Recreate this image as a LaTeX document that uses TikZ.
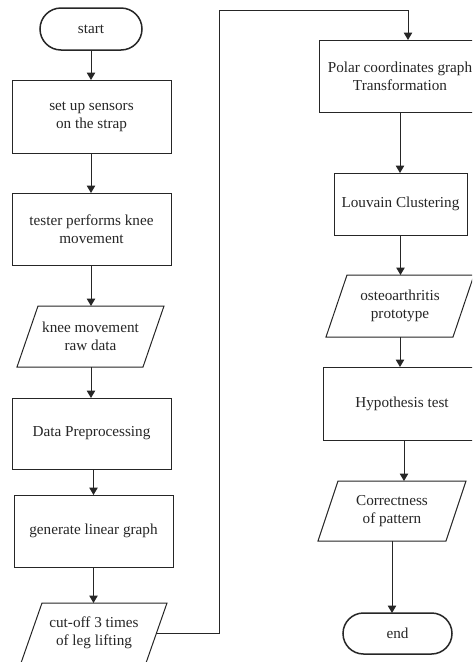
\documentclass[tikz,border=0pt]{standalone}
\usepackage{fontspec}
\setmainfont{Liberation Serif}
\usetikzlibrary{shapes.misc,arrows.meta,calc}
\tikzset{
  lin/.style={line width=1pt, draw=black!85},
  base/.style={inner sep=0pt, outer sep=0pt, align=center, text=black!85,
    font=\fontsize{15.2}{18}\selectfont},
  procbox/.style={base, lin, rectangle},
  termbox/.style={base, lin, line width=1.5pt, rounded rectangle},
  parabox/.style={base, rectangle, draw=none},
  arr/.style={lin, -{Triangle[length=7.5pt,width=8.5pt]}}
}
\newcommand\drawpara[2]{\draw[lin] ([xshift=#2pt]#1.north west) -- ([xshift=#2pt]#1.north east) -- ([xshift=-#2pt]#1.south east) -- ([xshift=-#2pt]#1.south west) -- cycle;}
\begin{document}
\begin{tikzpicture}[x=1pt,y=-1pt]
\useasboundingbox (0,0) rectangle (472,662);
\clip (0,0) rectangle (472,662);
\fill[white] (0,0) rectangle (472,662);
% left column
\node[termbox, minimum width=102pt, minimum height=42pt] (start) at (91,29) {start};
\node[procbox, minimum width=159pt, minimum height=73pt] (sensors) at (91.5,116.5) {set up sensors\\on the strap};
\node[procbox, minimum width=159pt, minimum height=72pt] (tester) at (91.5,229) {tester performs knee\\movement};
\node[parabox, minimum width=126pt, minimum height=61pt] (raw) at (90.5,336.5) {knee movement\\raw data};
\drawpara{raw}{10.5}
\node[procbox, minimum width=159pt, minimum height=71pt] (prep) at (91.5,433.5) {Data Preprocessing};
\node[procbox, minimum width=159pt, minimum height=72pt] (linear) at (93.5,531) {generate linear graph};
\node[parabox, minimum width=125pt, minimum height=60pt] (cut) at (94,633) {cut-off 3 times\\of leg lifting};
\drawpara{cut}{10.5}
% right column
\node[procbox, minimum width=162pt, minimum height=72pt] (polar) at (400,76) {Polar coordinates graph\\Transformation};
\node[procbox, minimum width=133pt, minimum height=62pt] (louvain) at (400.5,204) {Louvain Clustering};
\node[parabox, minimum width=127pt, minimum height=62pt] (osteo) at (400,306) {osteoarthritis\\prototype};
\drawpara{osteo}{10.5}
\node[procbox, minimum width=158pt, minimum height=73pt] (hyp) at (402,403.5) {Hypothesis test};
\node[parabox, minimum width=128pt, minimum height=60pt] (correct) at (392,511) {Correctness\\of pattern};
\drawpara{correct}{10}
\node[termbox, minimum width=109pt, minimum height=41pt] (end) at (397.5,633.5) {end};
% connectors
\draw[arr] (start.south) -- (start.south |- sensors.north);
\draw[arr] (sensors.south -| start.south) -- (start.south |- tester.north);
\draw[arr] (tester.south -| start.south) -- (start.south |- raw.north);
\draw[arr] (raw.south -| start.south) -- (start.south |- prep.north);
\draw[arr] (prep.south -| linear.north) -- (linear.north);
\draw[arr] (linear.south) -- (linear.south |- cut.north);
\coordinate (bend) at (219,10);
\draw[arr] (cut.east) -| (bend) -| ([xshift=8pt]polar.north);
\draw[arr] (polar.south) -- (polar.south |- louvain.north);
\draw[arr] (louvain.south) -- (louvain.south |- osteo.north);
\draw[arr] (osteo.south) -- (osteo.south |- hyp.north);
\draw[arr] (hyp.south -| 404,0) -- (404,0 |- correct.north);
\draw[arr] (correct.south) -- (correct.south |- end.north);
\end{tikzpicture}
\end{document}
